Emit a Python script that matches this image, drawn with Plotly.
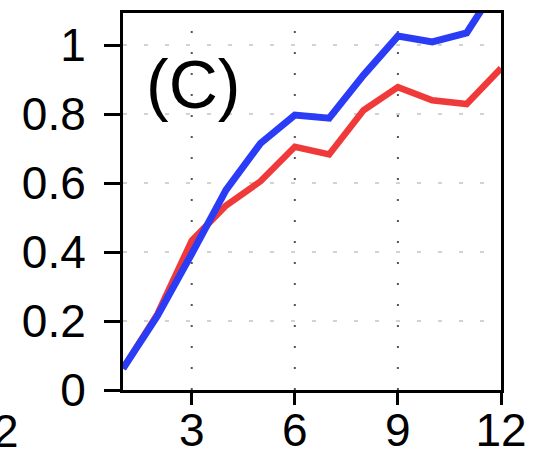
import plotly.graph_objects as go

months = [1, 2, 3, 4, 5, 6, 7, 8, 9, 10, 11, 12]
blue_vals = [0.062, 0.215, 0.395, 0.58, 0.715, 0.797, 0.788, 0.913, 1.026, 1.009, 1.035, 1.19]
red_vals = [0.062, 0.22, 0.433, 0.535, 0.605, 0.705, 0.683, 0.811, 0.878, 0.840, 0.829, 0.933]
x_ticks = [3, 6, 9, 12]
y_ticks = [0, 0.2, 0.4, 0.6, 0.8, 1]
y_tick_text = ["0", "0.2", "0.4", "0.6", "0.8", "1"]
panel_label = "(C)"

W, H = 533, 457
L, R, T, B = 123, 32, 13, 67

fig = go.Figure()
fig.add_trace(go.Scatter(x=months, y=red_vals, mode="lines",
                         line=dict(color="#f03a3a", width=6.5), showlegend=False))
fig.add_trace(go.Scatter(x=months, y=blue_vals, mode="lines",
                         line=dict(color="#2a3cf5", width=7), showlegend=False))

# vertical dotted grid
for xv in [3, 6, 9]:
    fig.add_shape(type="line", xref="x", yref="paper", x0=xv, x1=xv, y0=0, y1=1,
                  line=dict(color="#555555", width=2, dash="2px,19px"), layer="below")
# horizontal dotted grid
for yv in [0.2, 0.4, 0.6, 0.8, 1.0]:
    fig.add_shape(type="line", xref="paper", yref="y", x0=0, x1=1, y0=yv, y1=yv,
                  line=dict(color="#c4c4c4", width=1.5, dash="4px,17px"), layer="below")

font = dict(family="Liberation Sans, Arial, sans-serif", size=46, color="black")

fig.update_xaxes(range=[1, 12], tickvals=x_ticks, ticktext=[str(v) for v in x_ticks],
                 ticks="outside", ticklen=12, tickwidth=3, tickcolor="black",
                 showline=True, linewidth=3, linecolor="black", mirror=True,
                 showgrid=False, zeroline=False, tickfont=font, automargin=False,
                 ticklabelstandoff=-14)
fig.update_yaxes(range=[0, 1.093], tickvals=y_ticks, ticktext=y_tick_text,
                 ticks="outside", ticklen=16, tickwidth=3, tickcolor="black",
                 showline=True, linewidth=3, linecolor="black", mirror=True,
                 showgrid=False, zeroline=False, tickfont=font, automargin=False,
                 ticklabelstandoff=9)

fig.add_annotation(text=panel_label, xref="paper", yref="paper",
                   x=(193 - L) / (W - L - R), y=(H - B - 84) / (H - T - B),
                   xanchor="center", yanchor="middle", showarrow=False,
                   font=dict(family="Liberation Sans, Arial, sans-serif", size=68, color="black"))
# partial tick label of neighbouring panel at the left edge
fig.add_annotation(text="2", xref="paper", yref="paper",
                   x=(21 - L) / (W - L - R), y=(H - B - 431) / (H - T - B),
                   xanchor="right", yanchor="middle", showarrow=False, font=font)

fig.update_layout(width=W, height=H, margin=dict(l=L, r=R, t=T, b=B),
                  paper_bgcolor="white", plot_bgcolor="white")
fig.write_html("out.html")
